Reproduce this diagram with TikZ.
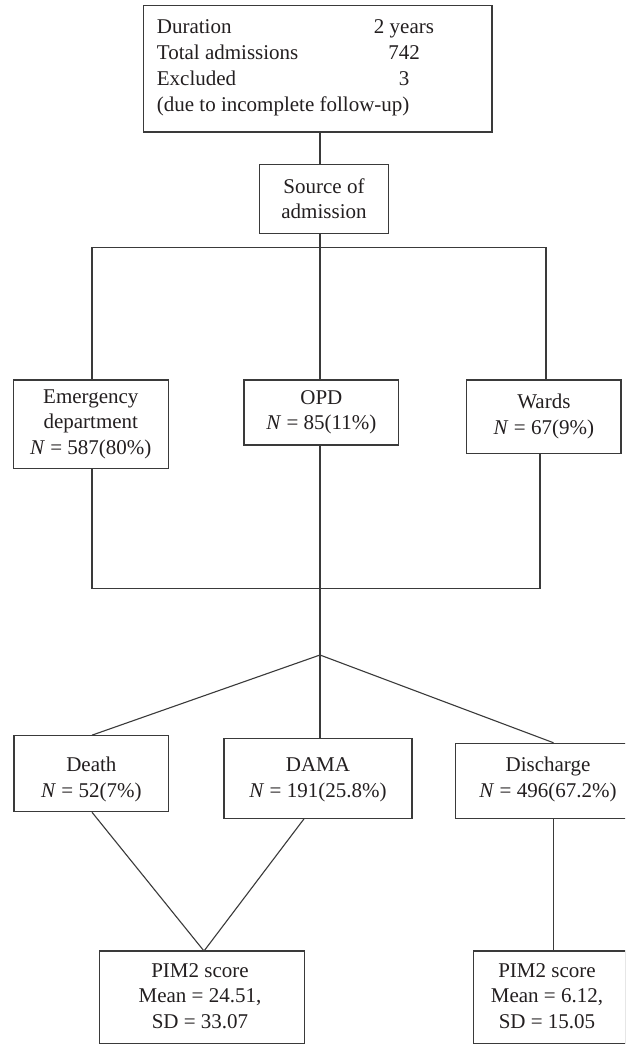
\documentclass[tikz,border=0pt]{standalone}
\usepackage{fontspec}
\setmainfont{Liberation Serif}
\definecolor{linec}{HTML}{3A3A3A}
\definecolor{txtc}{HTML}{231F20}
\newcommand\diagfont{\fontsize{21}{25.5}\selectfont}
\begin{document}
\begin{tikzpicture}[x=1pt,y=-1pt,
  box/.style={draw=linec, line width=1.1pt, rectangle, inner sep=0pt, align=center, text=txtc, font=\diagfont},
  conn/.style={draw=linec, line width=1.1pt},
  lbl/.style={inner sep=0pt, text=txtc, font=\diagfont}]
\useasboundingbox (0,0) rectangle (625,1044);
\fill[white] (0,0) rectangle (625,1044);
\clip (0,0) rectangle (625,1044);

% top box
\node[box, minimum width=348.8pt, minimum height=126.3pt] (top) at (317.6,68.85) {};
\node[lbl, anchor=base west] (t1) at (156.7,33.3) {Duration};
\node[lbl, anchor=base west] (t2) at (156.7,59.3) {Total admissions};
\node[lbl, anchor=base west] (t3) at (156.7,85.3) {Excluded};
\node[lbl, anchor=base west] (t4) at (156.7,111.3) {(due to incomplete follow-up)};
\node[lbl, anchor=base] (v1) at (404,33.3) {2 years};
\node[lbl, anchor=base] (v2) at (404,59.3) {742};
\node[lbl, anchor=base] (v3) at (404,85.3) {3};

% source
\node[box, minimum width=129.6pt, minimum height=69pt] (src) at (324,198.8) {Source of\\admission};

% admission sources
\node[box, minimum width=155pt, minimum height=88.3pt] (ed) at (90.8,424.15) {Emergency\\department\\\textit{N} = 587(80\%)};
\node[box, minimum width=154.8pt, minimum height=65pt] (opd) at (321.4,412.5) {OPD\\\textit{N} = 85(11\%)};
\node[box, minimum width=154.3pt, minimum height=73.3pt] (wards) at (543.85,416.65) {Wards\\\textit{N} = 67(9\%)};

% outcomes
\node[box, minimum width=154.8pt, minimum height=76pt] (death) at (91.4,773.7) {};
\node[box, minimum width=188pt, minimum height=80pt] (dama) at (318,778.3) {};
\node[box, minimum width=185.6pt, minimum height=75pt] (dis) at (548,780.8) {};
\node[lbl, align=center, anchor=base] (deathT) at (91.4,797) {Death\\\textit{N} = 52(7\%)};
\node[lbl, align=center, anchor=base] (damaT) at (318,797) {DAMA\\\textit{N} = 191(25.8\%)};
\node[lbl, align=center, anchor=base] (disT) at (548,797) {Discharge\\\textit{N} = 496(67.2\%)};

% PIM2 boxes
\node[box, minimum width=205.2pt, minimum height=92.3pt] (pimL) at (202.2,997.15) {};
\node[box, minimum width=152.7pt, minimum height=92.3pt] (pimR) at (549.65,997.15) {};
\node[lbl, align=center, anchor=base] (pimLT) at (200,1028.3) {PIM2 score\\Mean = 24.51,\\SD = 33.07};
\node[lbl, align=center, anchor=base] (pimRT) at (547,1028.3) {PIM2 score\\Mean = 6.12,\\SD = 15.05};

% coordinates for connectors
\coordinate (mid) at (320,655);
\coordinate (busL) at (92,247.7);
\coordinate (busR) at (546,247.7);
\coordinate (bus2L) at (92,588.3);
\coordinate (bus2R) at (540,588.3);
\coordinate (dline) at (553.5,880);
\coordinate (vtip) at (204,951);
\coordinate (damaV) at (304,850);

% connectors
\draw[conn] (mid |- top.south) -- (mid |- src.north);
\draw[conn] (mid |- src.south) -- (mid |- opd.north);
\draw[conn] (busL |- ed.north) -- (busL) -- (busR) -- (busR |- wards.north);
\draw[conn] (bus2L |- ed.south) -- (bus2L) -- (bus2R) -- (bus2R |- wards.south);
\draw[conn] (mid |- opd.south) -- (mid);
\draw[conn] (busL |- death.north) -- (mid) -- (dline |- dis.north);
\draw[conn] (mid) -- (mid |- dama.north);
\draw[conn] (busL |- death.south) -- (vtip) -- (damaV |- dama.south);
\draw[conn] (dline |- dis.south) -- (dline |- pimR.north);
\end{tikzpicture}
\end{document}
